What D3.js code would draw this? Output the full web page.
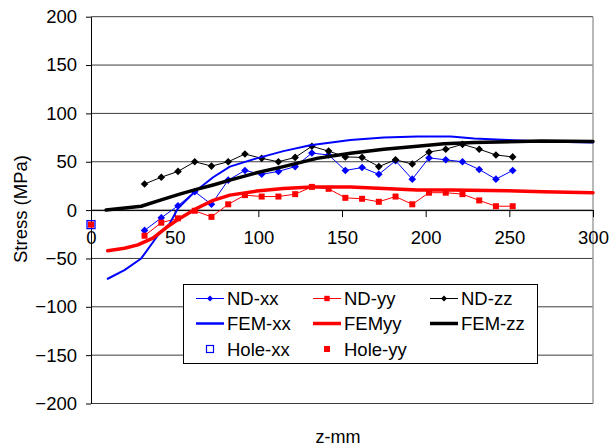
<!DOCTYPE html>
<html>
<head>
<meta charset="utf-8">
<script src="https://cdn.jsdelivr.net/npm/d3@7/dist/d3.min.js"></script>
<style>
  html, body { margin: 0; padding: 0; background: #fff; }
  svg { display: block; font-family: "Liberation Sans", Arial, sans-serif; }
</style>
</head>
<body>
<svg id="chart" width="610" height="447"></svg>
<script>
// Measurement positions (mm) for the neutron diffraction (ND) points
const ndZ = [32, 42, 52, 62, 72, 82, 92, 102, 112, 122, 132, 142, 152, 162, 172, 182, 192, 202, 212, 222, 232, 242, 252];
const ndXX = [-21, -8, 4.5, 19, 6, 31, 41, 37, 40, 45, 59, 57, 41, 44, 37, 51, 32, 54, 52, 50, 42, 32, 41];
const ndYY = [-26.5, -13, -8.5, -0.7, -7, 6, 15.5, 14, 14, 16.5, 24, 22, 12.7, 11.7, 8.6, 14, 6, 18, 18, 16.5, 10, 4, 4];
const ndZZ = [27, 34, 40, 50, 45.5, 50, 58, 53.5, 50, 54.5, 66, 61, 55, 54.5, 45, 52, 47.6, 60, 63, 68, 63, 57, 55];

// FEM predictions
const femXXz = [10, 20, 30, 40, 47, 52, 62, 73, 83, 99, 115, 131, 155, 175, 195, 215, 229, 249, 270, 300];
const femXX  = [-71, -62, -50, -26, -14, 2, 19, 34, 45, 53.5, 61, 67, 72.5, 75, 76, 76, 74, 72.5, 71, 70];
const femYYz = [10, 20, 28, 37, 45, 53, 63, 73, 83, 99, 115, 132, 155, 175, 195, 215, 249, 270, 300];
const femYY  = [-42, -39.5, -36, -29, -18, -8.6, 1.7, 10, 15.5, 19.7, 22.4, 24, 24, 22.4, 20.7, 20.7, 20, 19, 18];
const femZZz = [9, 30, 41, 53, 63, 73, 83, 99, 115, 135, 155, 175, 195, 211, 229, 269, 300];
const femZZ  = [0, 4, 10, 16.5, 21.4, 26, 31, 38.6, 45, 53.5, 58.7, 63, 66, 68.5, 70, 71.5, 71];

// Hole-drilling results at the surface
const holeZ = [0];
const holeXX = [-15];
const holeYY = [-15];

const xTicks = [0, 50, 100, 150, 200, 250, 300];
const yTicks = [-200, -150, -100, -50, 0, 50, 100, 150, 200];

const BLUE = "#0000ff", RED = "#ff0000", BLACK = "#000000";

const svg = d3.select("#chart");
const x = d3.scaleLinear().domain([0, 300]).range([91, 593]);
const y = d3.scaleLinear().domain([-200, 200]).range([403.5, 16.7]);

// Horizontal gridlines
svg.append("g").selectAll("line").data(yTicks).join("line")
  .attr("x1", x(0)).attr("x2", x(300))
  .attr("y1", d => y(d)).attr("y2", d => y(d))
  .attr("stroke", "#3c3c3c").attr("stroke-width", 1);

// Plot area right border
svg.append("line")
  .attr("x1", x(300)).attr("x2", x(300)).attr("y1", y(200)).attr("y2", y(-200))
  .attr("stroke", "#a0a0a0").attr("stroke-width", 1.5);

// Y axis
const yAxis = svg.append("g").attr("transform", `translate(${x(0)},0)`)
  .call(d3.axisLeft(y).tickValues(yTicks).tickSize(5).tickSizeOuter(0).tickPadding(9));
yAxis.selectAll("text").attr("font-size", 18.5).attr("fill", "#000").attr("font-family", "Liberation Sans, Arial, sans-serif");
yAxis.selectAll("line").attr("stroke", "#000");
yAxis.select(".domain").attr("stroke", "#000");

// X axis crossing at zero stress
const xAxis = svg.append("g").attr("transform", `translate(0,${y(0)})`)
  .call(d3.axisBottom(x).tickValues(xTicks).tickSize(7).tickSizeOuter(0).tickPadding(13.5));
xAxis.selectAll("text").attr("font-size", 18.5).attr("fill", "#000").attr("font-family", "Liberation Sans, Arial, sans-serif");
xAxis.selectAll("line").attr("stroke", "#000");
xAxis.select(".domain").attr("stroke", "#000");

// Axis titles
svg.append("text").attr("x", 338).attr("y", 443).attr("text-anchor", "middle")
  .attr("font-size", 18).text("z-mm");
svg.append("text").attr("transform", "translate(27,209) rotate(-90)").attr("text-anchor", "middle")
  .attr("font-size", 18.5).text("Stress (MPa)");

const diamond = r => `M0,${-r}L${r},0L0,${r}L${-r},0Z`;
const square = r => `M${-r},${-r}H${r}V${r}H${-r}Z`;

function ndSeries(vals, color, shape) {
  const pts = ndZ.map((z, i) => [z, vals[i]]);
  svg.append("path").datum(pts)
    .attr("d", d3.line().x(d => x(d[0])).y(d => y(d[1])))
    .attr("fill", "none").attr("stroke", color).attr("stroke-width", 1);
  svg.append("g").selectAll("path").data(pts).join("path")
    .attr("transform", d => `translate(${x(d[0])},${y(d[1])})`)
    .attr("d", shape).attr("fill", color);
}
function femSeries(zs, vals, color, w) {
  const pts = zs.map((z, i) => [z, vals[i]]);
  svg.append("path").datum(pts)
    .attr("d", d3.line().x(d => x(d[0])).y(d => y(d[1])))
    .attr("fill", "none").attr("stroke", color).attr("stroke-width", w)
    .attr("stroke-linejoin", "round").attr("stroke-linecap", "round");
}

ndSeries(ndXX, BLUE, diamond(3.8));
ndSeries(ndYY, RED, square(3));
ndSeries(ndZZ, BLACK, diamond(3.8));
femSeries(femXXz, femXX, BLUE, 2);
femSeries(femYYz, femYY, RED, 3.5);
femSeries(femZZz, femZZ, BLACK, 3.5);

// Hole-drilling markers
svg.append("g").selectAll("rect").data(holeZ.map((z, i) => [z, holeXX[i]])).join("rect")
  .attr("x", d => x(d[0]) - 4).attr("y", d => y(d[1]) - 4).attr("width", 8).attr("height", 8)
  .attr("fill", "none").attr("stroke", BLUE).attr("stroke-width", 1.3);
svg.append("g").selectAll("rect").data(holeZ.map((z, i) => [z, holeYY[i]])).join("rect")
  .attr("x", d => x(d[0]) - 3).attr("y", d => y(d[1]) - 3).attr("width", 6).attr("height", 6)
  .attr("fill", RED);

// Legend
const legendItems = [
  { name: "ND-xx", color: BLUE, kind: "nd", shape: diamond(3) },
  { name: "ND-yy", color: RED, kind: "nd", shape: square(2.7) },
  { name: "ND-zz", color: BLACK, kind: "nd", shape: diamond(3) },
  { name: "FEM-xx", color: BLUE, kind: "fem", w: 2.5 },
  { name: "FEMyy", color: RED, kind: "fem", w: 3.5 },
  { name: "FEM-zz", color: BLACK, kind: "fem", w: 3.5 },
  { name: "Hole-xx", color: BLUE, kind: "hollow" },
  { name: "Hole-yy", color: RED, kind: "filled" }
];
const lg = svg.append("g");
lg.append("rect").attr("x", 183.5).attr("y", 284.5).attr("width", 354).attr("height", 79)
  .attr("fill", "#fff").attr("stroke", "#000").attr("stroke-width", 1);
const colX = [196, 313, 430], rowY = [298.5, 323.5, 349];
legendItems.forEach((it, i) => {
  const cx = colX[i % 3], cy = rowY[Math.floor(i / 3)];
  const g = lg.append("g");
  if (it.kind === "nd" || it.kind === "fem") {
    g.append("line").attr("x1", cx).attr("x2", cx + 28).attr("y1", cy).attr("y2", cy)
      .attr("stroke", it.color).attr("stroke-width", it.kind === "nd" ? 1 : it.w);
    if (it.kind === "nd") g.append("path").attr("transform", `translate(${cx + 14},${cy})`).attr("d", it.shape).attr("fill", it.color);
  } else if (it.kind === "hollow") {
    g.append("rect").attr("x", cx + 10.5).attr("y", cy - 3.5).attr("width", 7).attr("height", 7)
      .attr("fill", "none").attr("stroke", it.color).attr("stroke-width", 1.2);
  } else {
    g.append("rect").attr("x", cx + 11).attr("y", cy - 3).attr("width", 6).attr("height", 6).attr("fill", it.color);
  }
  g.append("text").attr("x", cx + 31).attr("y", cy + 6.5).attr("font-size", 18.5).text(it.name);
});
</script>
</body>
</html>
